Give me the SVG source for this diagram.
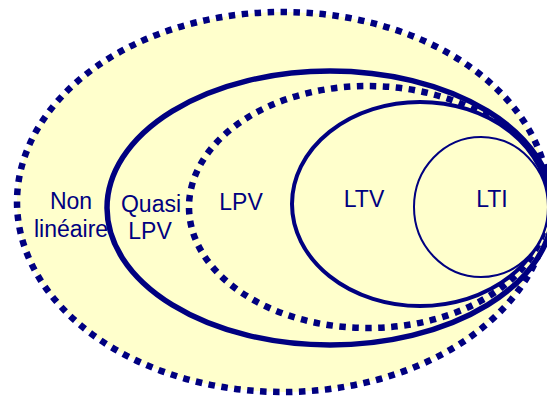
<svg xmlns="http://www.w3.org/2000/svg" width="547" height="401" viewBox="0 0 547 401">
<style>
.set{fill:#FFFFCC;stroke:#000080}
.dot{stroke-width:6.5;stroke-dasharray:6.5 6.5}
text{font-family:"Liberation Sans",Arial,sans-serif;font-size:23px;fill:#000080;text-anchor:middle}
</style>
<rect width="547" height="401" fill="#fff"/>
<g id="nonlineaire">
<ellipse class="set dot" cx="283" cy="202" rx="266" ry="190"/>
<text x="71" y="209">Non</text>
<text x="71" y="237">linéaire</text>
</g>
<g id="quasilpv">
<ellipse class="set" stroke-width="5.5" cx="330" cy="208" rx="223" ry="137"/>
<text x="151" y="212">Quasi</text>
<text x="150" y="239">LPV</text>
</g>
<g id="lpv">
<ellipse class="set dot" cx="368" cy="207" rx="179" ry="121"/>
<text x="241" y="210">LPV</text>
</g>
<g id="ltv">
<ellipse class="set" stroke-width="4" cx="420" cy="204" rx="128" ry="102"/>
<text x="364" y="207">LTV</text>
</g>
<g id="lti">
<ellipse class="set" stroke-width="2" cx="481" cy="207" rx="67" ry="70"/>
<text x="492" y="207">LTI</text>
</g>
<g id="connectors"/>
</svg>
